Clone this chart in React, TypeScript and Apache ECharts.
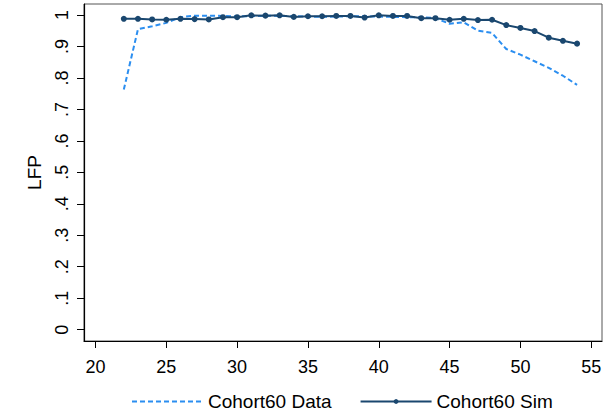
import React, { useEffect, useRef } from "react";
import * as echarts from "echarts";

const ages = [22, 23, 24, 25, 26, 27, 28, 29, 30, 31, 32, 33, 34, 35, 36, 37, 38, 39, 40, 41, 42, 43, 44, 45, 46, 47, 48, 49, 50, 51, 52, 53, 54];
const dataValues = [0.763, 0.955, 0.964, 0.975, 0.993, 0.998, 0.998, 0.997, 0.996, 0.996, 0.998, 0.997, 0.996, 0.995, 0.994, 0.995, 0.996, 0.996, 0.995, 0.994, 0.993, 0.993, 0.99, 0.972, 0.977, 0.95, 0.943, 0.892, 0.874, 0.853, 0.832, 0.807, 0.778];
const simValues = [0.988, 0.988, 0.986, 0.985, 0.988, 0.987, 0.986, 0.993, 0.993, 0.999, 0.998, 0.999, 0.994, 0.996, 0.996, 0.997, 0.997, 0.992, 0.999, 0.997, 0.997, 0.99, 0.99, 0.985, 0.988, 0.984, 0.985, 0.968, 0.959, 0.949, 0.928, 0.918, 0.909];
const xTicks = [20, 25, 30, 35, 40, 45, 50, 55];
const yTicks = [0, 0.1, 0.2, 0.3, 0.4, 0.5, 0.6, 0.7, 0.8, 0.9, 1];
const yTickLabels = ["0", ".1", ".2", ".3", ".4", ".5", ".6", ".7", ".8", ".9", "1"];
const seriesNames = ["Cohort60 Data", "Cohort60 Sim"];

const FONT = "Liberation Sans, Arial, sans-serif";

export default function App() {
  const ref = useRef<HTMLDivElement>(null);
  useEffect(() => {
    if (!ref.current) return;
    const chart = echarts.init(ref.current, null, { renderer: "svg" });
    chart.setOption({
      animation: false,
      backgroundColor: "#ffffff",
      grid: { left: 84, right: 10, top: 4, bottom: 78, show: true, borderColor: "#555555", borderWidth: 1, backgroundColor: "#ffffff" },
      xAxis: {
        type: "value",
        min: 19.19,
        max: 55.76,
        axisLine: { show: true, onZero: false, lineStyle: { color: "#000000", width: 1.2 } },
        axisTick: { show: true, length: 7, customValues: xTicks, lineStyle: { color: "#000000" } },
        axisLabel: { customValues: xTicks, margin: 17, fontSize: 18, color: "#000000", fontFamily: FONT },
        splitLine: { show: false },
      },
      yAxis: {
        type: "value",
        min: -0.036,
        max: 1.035,
        name: "LFP",
        nameLocation: "middle",
        nameGap: 40,
        nameRotate: 90,
        nameTextStyle: { fontSize: 19, color: "#000000", fontFamily: FONT },
        axisLine: { show: true, onZero: false, lineStyle: { color: "#000000", width: 1.2 } },
        axisTick: { show: true, length: 7, customValues: yTicks, lineStyle: { color: "#000000" } },
        axisLabel: {
          customValues: yTicks,
          rotate: 90,
          margin: 13,
          fontSize: 18,
          color: "#000000",
          fontFamily: FONT,
          formatter: (v: number) => {
            const i = yTicks.findIndex((t) => Math.abs(t - v) < 1e-6);
            return i >= 0 ? yTickLabels[i] : "";
          },
        },
        splitLine: { show: false },
      },
      legend: {
        left: 126,
        top: 387,
        itemWidth: 71,
        itemHeight: 6,
        itemGap: 28,
        textStyle: { fontSize: 19, color: "#000000", fontFamily: FONT },
        data: [
          { name: seriesNames[0], itemStyle: { opacity: 0 } },
          { name: seriesNames[1] },
        ],
      },
      series: [
        {
          name: seriesNames[0],
          type: "line",
          data: ages.map((a, i) => [a, dataValues[i]]),
          symbol: "none",
          lineStyle: { color: "#2b8ef0", width: 2, type: [5, 3] },
          itemStyle: { color: "#2b8ef0" },
        },
        {
          name: seriesNames[1],
          type: "line",
          data: ages.map((a, i) => [a, simValues[i]]),
          symbol: "circle",
          symbolSize: 6,
          lineStyle: { color: "#1a476f", width: 2 },
          itemStyle: { color: "#1a476f" },
        },
      ],
    });
    return () => chart.dispose();
  }, []);
  return <div ref={ref} style={{ position: "fixed", left: 0, top: 0, width: 612, height: 419 }} />;
}
